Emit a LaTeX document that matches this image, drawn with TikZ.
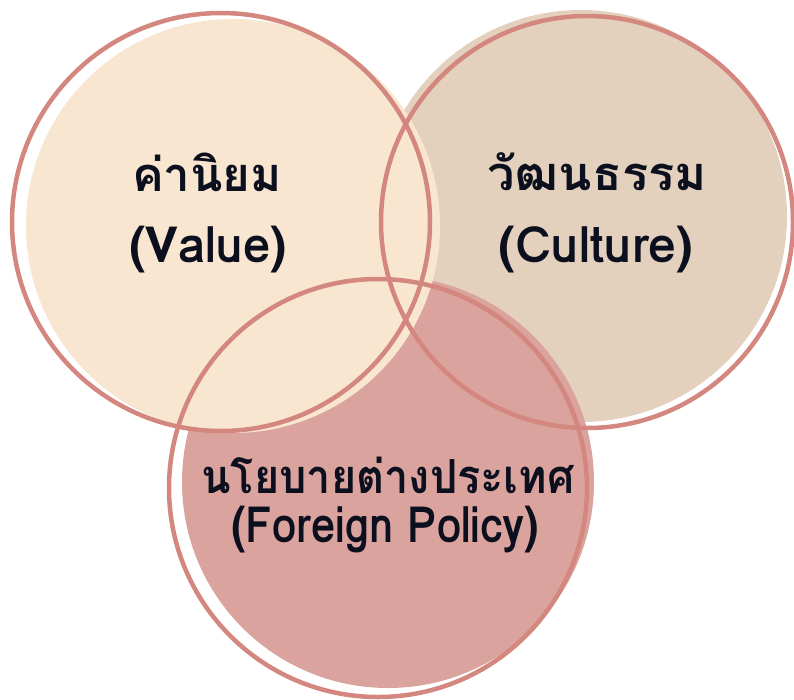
\documentclass[tikz,border=0pt]{standalone}
\usepackage{fontspec}
\usepackage{graphicx}
\newfontfamily\thaifont[Script=Thai]{Loma}
\definecolor{fillA}{HTML}{F8E6D0}
\definecolor{fillB}{HTML}{E3D1BE}
\definecolor{fillC}{HTML}{DBA39D}
\definecolor{ringcol}{HTML}{D3877E}
\definecolor{inkcol}{HTML}{0B0F1E}
\tikzset{
  ring/.style={draw=ringcol, line width=4.5pt},
  lblth/.style={text=inkcol, font=\thaifont\bfseries\fontsize{47}{54}\selectfont, inner sep=0pt, anchor=center},
  lblen/.style={text=inkcol, font=\thaifont\bfseries\fontsize{50}{58}\selectfont, inner sep=0pt, anchor=center}
}
\begin{document}
\begin{tikzpicture}[x=1pt,y=-1pt]
\useasboundingbox (0,0) rectangle (794,699);
\fill[white] (0,0) rectangle (794,699);
% fills
\fill[fillB] (581,216) circle (206pt);
\fill[fillC] (388,482) circle (206pt);
\fill[fillA] (233,226) circle (207pt);
% outlines
\draw[ring] (221,222) circle (209pt);
\draw[ring] (587,222) circle (206pt);
\draw[ring] (378,488) circle (209pt);
% labels
\node[lblth] (valTH) at (207,172) {\scalebox{1.01}[1]{ค่านิยม}};
\node[lblen] (valEN) at (208,250) {\scalebox{0.98}[1]{(Value)}};
\node[lblth] (culTH) at (597,172) {\scalebox{1.04}[1]{วัฒนธรรม}};
\node[lblen] (culEN) at (596,250) {(Culture)};
\node[lblth, anchor=base, text depth=0pt] (polTH) at (388,493) {\scalebox{0.92}[1]{นโยบายต่างประเทศ}};
\node[lblen, anchor=base, text height=34pt] (polEN) at (385,542) {\scalebox{0.87}[1]{(Foreign Policy)}};
\end{tikzpicture}
\end{document}
